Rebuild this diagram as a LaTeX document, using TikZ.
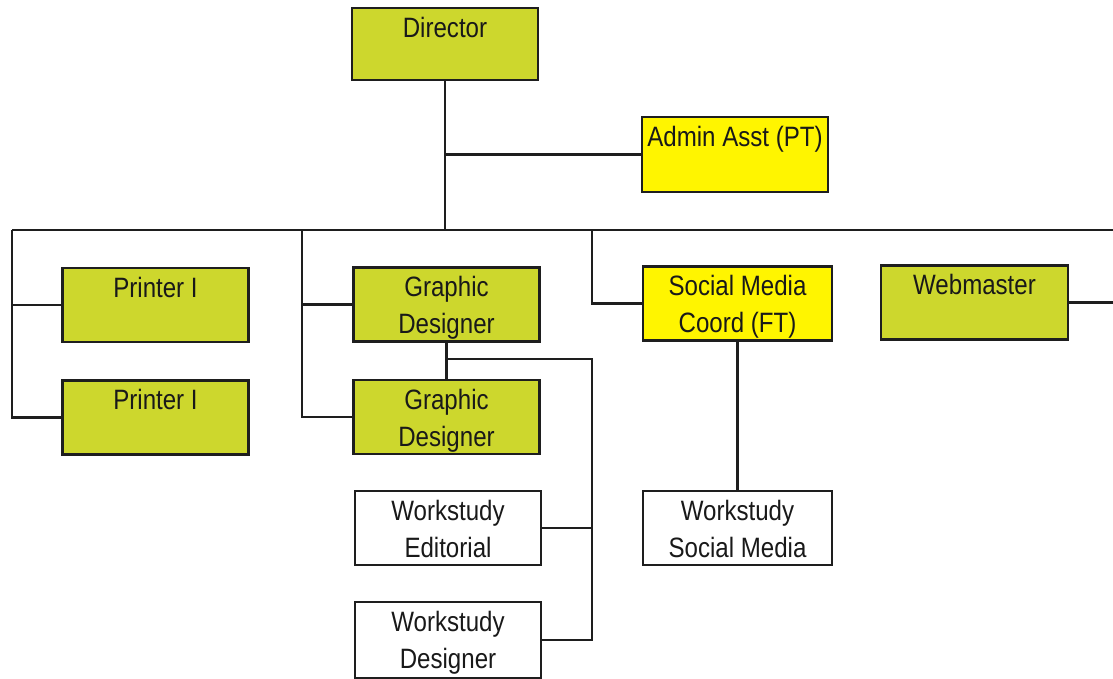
\documentclass[tikz,border=0pt]{standalone}
\usepackage{fontspec}
\setmainfont[FakeStretch=0.86]{Liberation Sans}
\definecolor{boxgreen}{HTML}{CDD72D}
\definecolor{boxyellow}{HTML}{FFF500}
\definecolor{linecol}{HTML}{1E1E1E}
\begin{document}
\begin{tikzpicture}[x=1pt,y=-1pt,
  base/.style={draw=linecol, line width=2.6pt, rectangle, minimum width=186pt, minimum height=74pt, inner sep=0pt},
  gbox/.style={base, fill=boxgreen},
  ybox/.style={base, fill=boxyellow},
  wbox/.style={base, fill=white},
  lbl/.style={anchor=north, inner sep=0pt, yshift=-10pt, align=center, font=\fontsize{28}{37}\selectfont, text=black!90},
  conn/.style={draw=linecol, line width=2.6pt}]
\useasboundingbox (0,0) rectangle (1113,679);
\fill[white] (0,0) rectangle (1113,679);

\node[gbox, minimum height=72pt, label={[lbl]north:Director}] (dir) at (445,44) {};
\node[ybox, minimum height=75pt, label={[lbl]north:Admin Asst (PT)}] (adm) at (735,154.5) {};

\node[gbox, label={[lbl]north:Printer I}] (p1) at (155.5,305) {};
\node[gbox, label={[lbl]north:Printer I}] (p2) at (155.5,417.5) {};

\node[gbox, label={[lbl]north:Graphic\\Designer}] (gd1) at (446.5,304.5) {};
\node[gbox, label={[lbl]north:Graphic\\Designer}] (gd2) at (446.5,417) {};

\node[wbox, label={[lbl]north:Workstudy\\Editorial}] (wse) at (448,528) {};
\node[wbox, minimum height=76pt, label={[lbl]north:Workstudy\\Designer}] (wsd) at (448,640) {};

\node[ybox, minimum width=189pt, label={[lbl]north:Social Media\\Coord (FT)}] (smc) at (737.5,303.5) {};
\node[wbox, minimum width=189pt, label={[lbl]north:Workstudy\\Social Media}] (wss) at (737.5,528) {};

\node[gbox, minimum width=187pt, label={[lbl]north:Webmaster}] (web) at (974.5,302.5) {};

\coordinate (busL) at (12,230);
\coordinate (busR) at (1113,230);
\coordinate (b2) at (302,230);
\coordinate (b3) at (592,359);
\coordinate (b4) at (592,230);
\coordinate (webR) at (1113,302.5);

\draw[conn] (busL) -- (busR);
\draw[conn] (dir.south) -- (dir.south |- busL);
\draw[conn] (dir.south |- adm.west) -- (adm.west);
\draw[conn] (busL) |- (p2.west);
\draw[conn] (busL |- p1.west) -- (p1.west);
\draw[conn] (b2) |- (gd2.west);
\draw[conn] (b2 |- gd1.west) -- (gd1.west);
\draw[conn] (gd1.south) -- (gd2.north);
\draw[conn] (gd1.south |- b3) -- (b3) |- (wsd.east);
\draw[conn] (b3 |- wse.east) -- (wse.east);
\draw[conn] (b4) |- (smc.west);
\draw[conn] (smc.south) -- (wss.north);
\draw[conn] (web.east) -- (webR);
\end{tikzpicture}
\end{document}
